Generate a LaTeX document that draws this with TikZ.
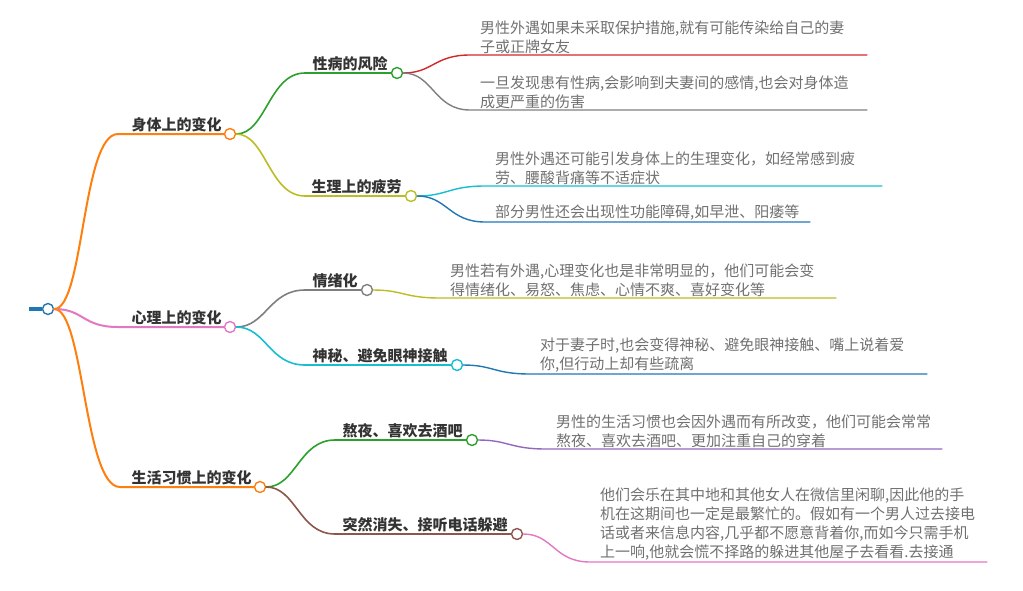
\documentclass[tikz,border=0pt]{standalone}
\usepackage{fontspec}
\newfontfamily\cjk{Noto Sans CJK SC}
\usetikzlibrary{positioning}
\definecolor{mmblue}{HTML}{1F77B4}
\definecolor{mmorange}{HTML}{FF7F0E}
\definecolor{mmgreen}{HTML}{2CA02C}
\definecolor{mmred}{HTML}{D62728}
\definecolor{mmpurple}{HTML}{9467BD}
\definecolor{mmbrown}{HTML}{8C564B}
\definecolor{mmpink}{HTML}{E377C2}
\definecolor{mmgray}{HTML}{7F7F7F}
\definecolor{mmolive}{HTML}{BCBD22}
\definecolor{mmcyan}{HTML}{17BECF}
\definecolor{mmtext}{HTML}{333333}
\definecolor{mmleaf}{HTML}{707070}
\tikzset{
  dot/.style={circle,draw=#1,fill=white,line width=1.4pt,minimum size=11pt,inner sep=0pt},
  link/.style={to path={.. controls +(36,0) and +(-36,0) .. (\tikztotarget) \tikztonodes}},
  lvl/.style={font=\cjk\bfseries\fontsize{15}{19}\selectfont,text=mmtext,inner xsep=0pt,inner ysep=1.5pt},
  leaf/.style={font=\cjk\fontsize{15}{19}\selectfont,text=mmleaf,align=left,anchor=south west,inner xsep=0pt,inner ysep=1.5pt},
}
\begin{document}
\begin{tikzpicture}[x=1pt,y=-1pt,line cap=round,line join=round]
\useasboundingbox (0,0) rectangle (1023,590);
% root
\node[dot=mmblue] (root) at (48,309) {};
\draw[mmblue,line width=4pt,line cap=butt] (root.west) -- ++(-13,0);
% first level
\path (118,134) coordinate (body-s)
      (118,327) coordinate (mind-s)
      (120,487) coordinate (habit-s);
\node[dot=mmorange] (body) at (230,134) {};
\node[dot=mmpink] (mind) at (230,327) {};
\node[dot=mmorange] (habit) at (260,487) {};
\draw[mmorange,line width=2pt] (root) to[link] (body-s) -- (body);
\draw[mmpink,line width=2pt] (root) to[link] (mind-s) -- (mind);
\draw[mmorange,line width=2pt] (root) to[link] (habit-s) -- (habit);
\node[lvl,above left=0pt and 2pt of body.west] {身体上的变化};
\node[lvl,above left=0pt and 2pt of mind.west] {心理上的变化};
\node[lvl,above left=0pt and 2pt of habit.west] {生活习惯上的变化};
% second level
\foreach \n/\p/\c/\xs/\x/\y in {std/body/mmgreen/305/397/73,tired/body/mmolive/305/411/196,
    mood/mind/mmgray/305/367/290,secret/mind/mmcyan/305/457/365,
    night/habit/mmgreen/335/472/440,vanish/habit/mmbrown/335/517/534}{
  \node[dot=\c] (\n) at (\x,\y) {};
  \path (\xs,\y) coordinate (\n-s);
  \draw[\c,line width=1.6pt] (\p) to[link] (\n-s) -- (\n);
}
\node[lvl,above left=0pt and 3pt of std.west] {性病的风险};
\node[lvl,above left=0pt and 3pt of tired.west] {生理上的疲劳};
\node[lvl,above left=0pt and 3pt of mood.west] {情绪化};
\node[lvl,above left=0pt and 3pt of secret.west] {神秘、避免眼神接触};
\node[lvl,above left=0pt and 3pt of night.west] {熬夜、喜欢去酒吧};
\node[lvl,above left=0pt and 3pt of vanish.west] {突然消失、接听电话躲避};
% leaves
\foreach \n/\p/\c/\xs/\xe/\y in {la/std/mmred/470/867/55,lb/std/mmgray/470/867/110,
    lc/tired/mmcyan/485/882/186,ld/tired/mmblue/485/810/222,
    le/mood/mmolive/440/836/298,lf/secret/mmblue/530/927/374,
    lg/night/mmpurple/546/942/449,lh/vanish/mmpink/590/987/562}{
  \path (\xs,\y) coordinate (\n-s) (\xe,\y) coordinate (\n-e);
  \draw[\c,line width=1.4pt] (\p) to[link] (\n-s) -- (\n-e);
}
\node[leaf] (la) at (480,55) {男性外遇如果未采取保护措施,就有可能传染给自己的妻\\子或正牌女友};
\node[leaf] (lb) at (480,110) {一旦发现患有性病,会影响到夫妻间的感情,也会对身体造\\成更严重的伤害};
\node[leaf] (lc) at (495,186) {男性外遇还可能引发身体上的生理变化，如经常感到疲\\劳、腰酸背痛等不适症状};
\node[leaf] (ld) at (495,222) {部分男性还会出现性功能障碍,如早泄、阳痿等};
\node[leaf] (le) at (450,298) {男性若有外遇,心理变化也是非常明显的，他们可能会变\\得情绪化、易怒、焦虑、心情不爽、喜好变化等};
\node[leaf] (lf) at (540,374) {对于妻子时,也会变得神秘、避免眼神接触、嘴上说着爱\\你,但行动上却有些疏离};
\node[leaf] (lg) at (556,449) {男性的生活习惯也会因外遇而有所改变，他们可能会常常\\熬夜、喜欢去酒吧、更加注重自己的穿着};
\node[leaf] (lh) at (600,562) {他们会乐在其中地和其他女人在微信里闲聊,因此他的手\\机在这期间也一定是最繁忙的。假如有一个男人过去接电\\话或者来信息内容,几乎都不愿意背着你,而如今只需手机\\上一响,他就会慌不择路的躲进其他屋子去看看.去接通};
\end{tikzpicture}
\end{document}
